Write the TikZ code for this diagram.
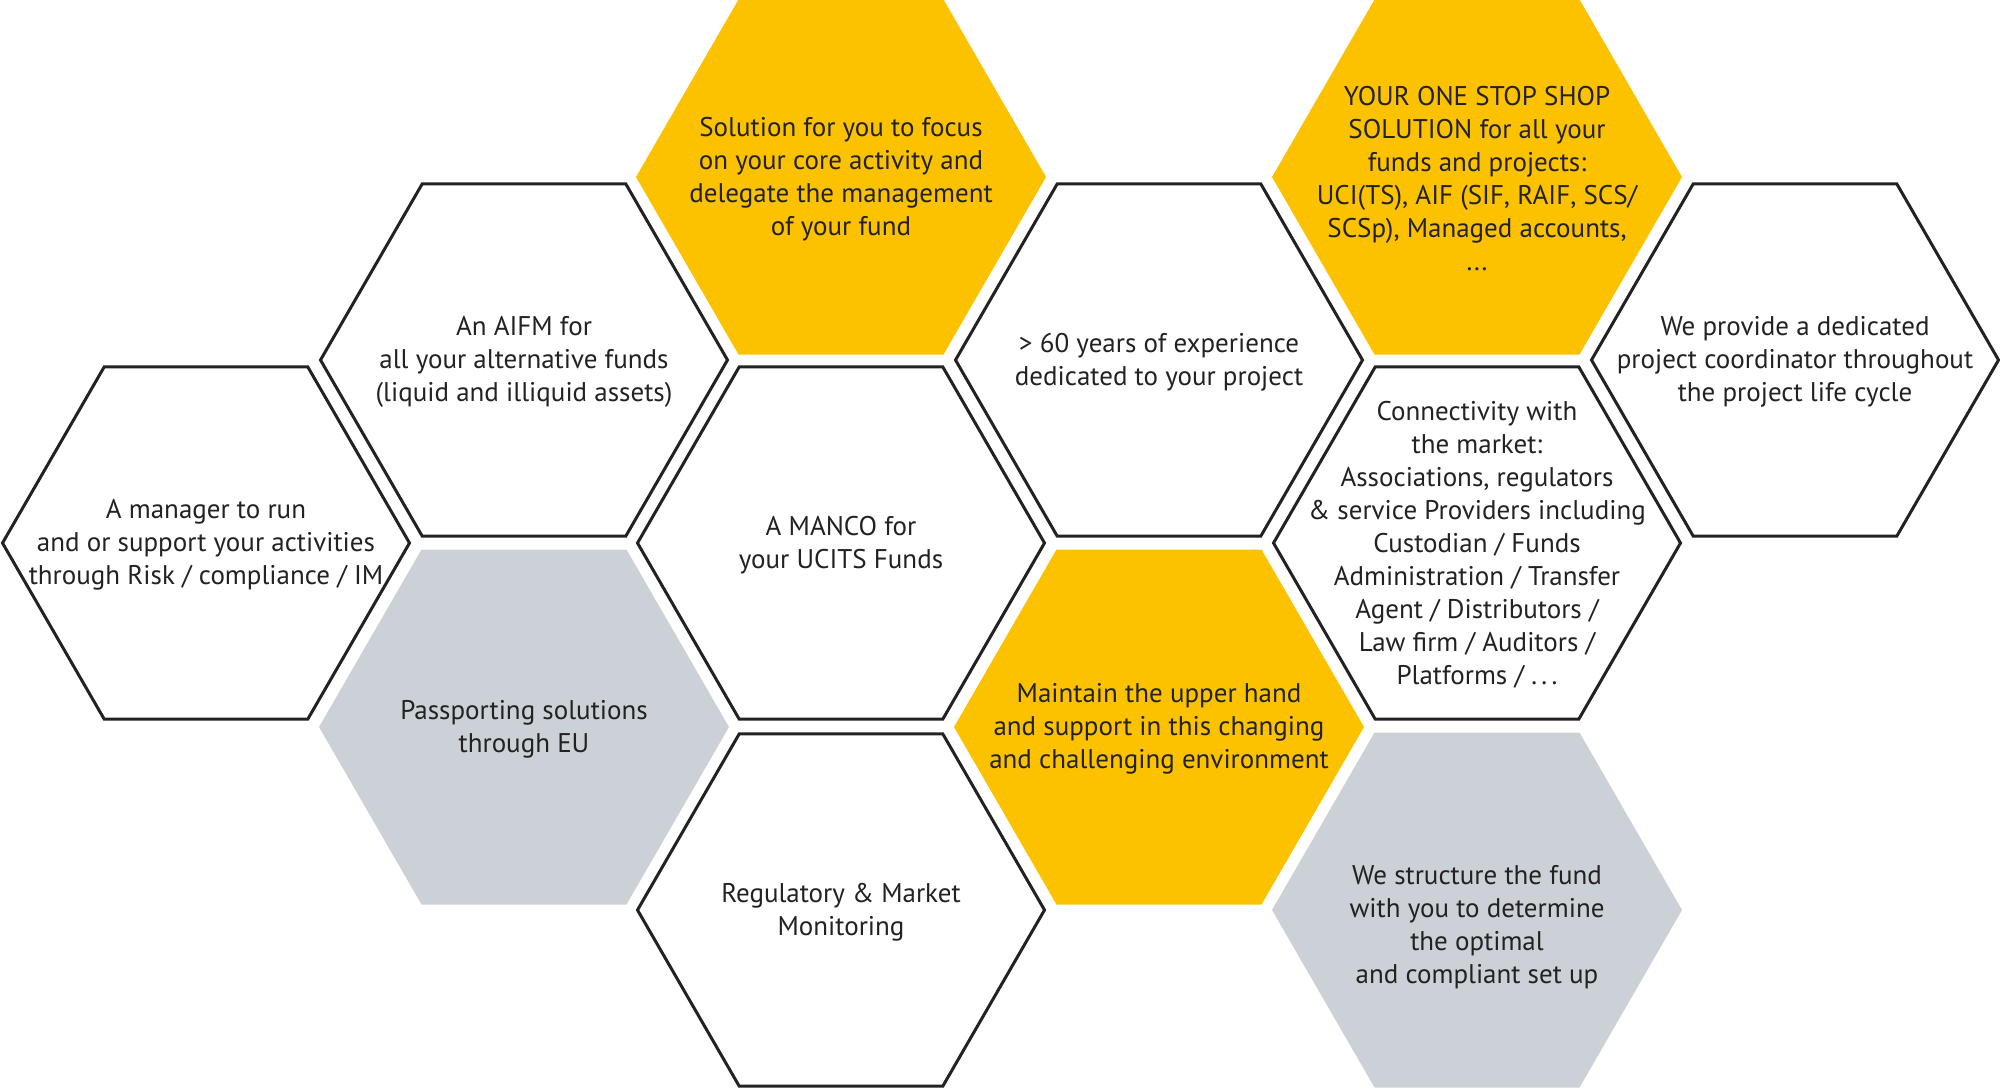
\documentclass[tikz,border=0pt]{standalone}
\usepackage{fontspec}
\setmainfont{PT Sans}
\definecolor{hexyellow}{HTML}{FCC200}
\definecolor{hexgray}{HTML}{CBD1D7}
\definecolor{hexink}{HTML}{222222}
\begin{document}
\begin{tikzpicture}[x=0.5pt,y=-0.5pt,
  outlinehex/.style={draw=hexink,line width=1.5pt,line join=miter,fill=white},
  yellowhex/.style={fill=hexyellow},
  grayhex/.style={fill=hexgray},
  hextext/.style={align=center,text=hexink,font=\fontsize{13.5pt}{16.5pt}\selectfont,inner sep=0pt}]
\useasboundingbox (0,0) rectangle (2000,1089);
\newcommand{\hexo}[2]{\draw[#2,shift={(#1)}] (-203.5,0) -- (-101.75,-176.2) -- (101.75,-176.2) -- (203.5,0) -- (101.75,176.2) -- (-101.75,176.2) -- cycle;}
\newcommand{\hexf}[2]{\fill[#2,shift={(#1)}] (-205,0) -- (-102.5,-177.5) -- (102.5,-177.5) -- (205,0) -- (102.5,177.5) -- (-102.5,177.5) -- cycle;}
% centres
\coordinate (c1) at (206,543);
\coordinate (c2) at (524,360);
\coordinate (c3) at (524,727);
\coordinate (c4) at (841,177);
\coordinate (c5) at (841,543);
\coordinate (c6) at (841,910);
\coordinate (c7) at (1159,360);
\coordinate (c8) at (1159,727);
\coordinate (c9) at (1477,177);
\coordinate (c10) at (1477,543);
\coordinate (c11) at (1477,910);
\coordinate (c12) at (1795,360);
% hexagons
\hexo{c1}{outlinehex}
\hexo{c2}{outlinehex}
\hexf{c3}{grayhex}
\hexf{c4}{yellowhex}
\hexo{c5}{outlinehex}
\hexo{c6}{outlinehex}
\hexo{c7}{outlinehex}
\hexf{c8}{yellowhex}
\hexf{c9}{yellowhex}
\hexo{c10}{outlinehex}
\hexf{c11}{grayhex}
\hexo{c12}{outlinehex}
% texts
\node[hextext] (t1) at ([yshift=-1pt]c1) {A manager to run\\and or support your activities\\through Risk / compliance / IM};
\node[hextext] (t2) at ([yshift=-1pt]c2) {An AIFM for\\all your alternative funds\\(liquid and illiquid assets)};
\node[hextext] (t3) at ([yshift=-1pt]c3) {Passporting solutions\\through EU};
\node[hextext] (t4) at ([yshift=-1pt]c4) {Solution for you to focus\\on your core activity and\\delegate the management\\of your fund};
\node[hextext] (t5) at ([yshift=-1pt]c5) {A MANCO for\\your UCITS Funds};
\node[hextext] (t6) at ([yshift=-1pt]c6) {Regulatory \& Market\\Monitoring};
\node[hextext] (t7) at ([yshift=-1pt]c7) {> 60 years of experience\\dedicated to your project};
\node[hextext] (t8) at ([yshift=-1pt]c8) {Maintain the upper hand\\and support in this changing\\and challenging environment};
\node[hextext] (t9) at ([yshift=-1pt]c9) {YOUR ONE STOP SHOP\\SOLUTION for all your\\funds and projects:\\UCI(TS), AIF (SIF, RAIF, SCS/\\SCSp), Managed accounts,\\...};
\node[hextext] (t10) at ([yshift=-1pt]c10) {Connectivity with\\the market:\\Associations, regulators\\\& service Providers including\\Custodian / Funds\\Administration / Transfer\\Agent / Distributors /\\Law firm / Auditors /\\Platforms / .\kern2.2pt.\kern2.2pt.};
\node[hextext] (t11) at ([yshift=-8.5pt]c11) {We structure the fund\\with you to determine\\the optimal\\and compliant set up};
\node[hextext] (t12) at ([yshift=-1pt]c12) {We provide a dedicated\\project coordinator throughout\\the project life cycle};
\end{tikzpicture}
\end{document}
